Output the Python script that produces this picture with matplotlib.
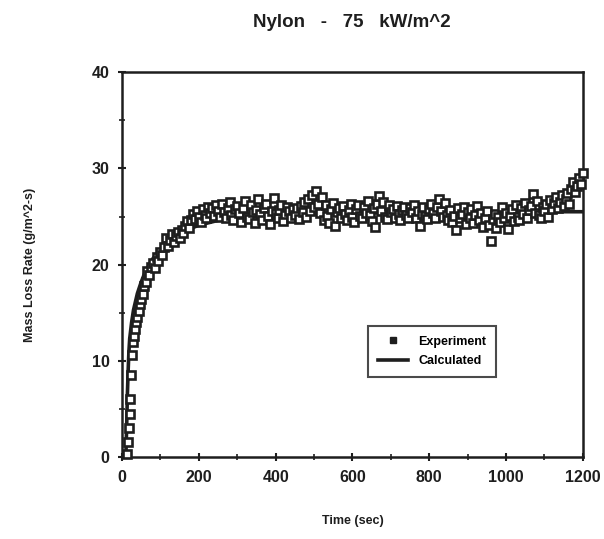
import numpy as np
import matplotlib
matplotlib.use("Agg")
import matplotlib.pyplot as plt
from matplotlib.lines import Line2D

# experiment, fast rise part (time in s, mass loss rate in g/m^2-s)
early_time = [14, 16, 18, 20, 22, 24, 26, 28, 31, 34, 37, 40, 43, 46, 50, 54,
              58, 62, 66, 70, 75, 80, 85, 90, 95, 100, 105, 110, 115, 120, 125,
              130, 135, 140, 145, 150, 155, 160, 165, 170, 175, 180, 185, 190,
              195, 200, 205, 210, 215, 220, 225, 230, 235, 240, 245, 250]
early_rate = [0.3, 1.6, 3.0, 4.5, 6.0, 8.5, 10.6, 12.0, 12.6, 13.3, 14.0, 14.6,
              15.2, 15.9, 16.4, 17.0, 17.8, 18.2, 19.3, 18.9, 19.8, 20.2, 19.6,
              20.8, 20.4, 21.3, 21.0, 21.8, 22.8, 21.9, 22.6, 23.2, 22.4, 23.0,
              23.4, 22.8, 23.6, 23.3, 24.0, 24.5, 23.8, 24.6, 25.3, 24.7, 25.6,
              25.0, 24.4, 25.8, 25.2, 24.9, 26.0, 25.4, 25.9, 25.1, 26.2, 25.6]

# experiment, plateau part: one reading every 5 s from 255 s to 1200 s
late_start, late_stop, late_step = 255, 1200, 5
late_rate = [
    25.0, 26.3, 25.5, 24.8, 25.9, 26.5, 25.2, 24.6, 25.8, 26.1,
    25.4, 24.4, 25.9, 26.6, 25.0, 24.7, 26.2, 25.5, 24.3, 25.7,
    26.8, 25.3, 24.6, 25.9, 26.3, 25.1, 24.2, 25.6, 26.9, 25.4,
    24.8, 25.7, 26.2, 24.5, 25.3, 26.0, 25.6, 24.9, 25.8, 25.2,
    25.9, 24.7, 26.1, 25.5, 26.5, 25.0, 26.8, 25.6, 27.2, 26.0,
    27.7, 26.3, 25.4, 27.0, 24.6, 26.2, 25.1, 24.3, 25.8, 26.4,
    24.0, 25.5, 25.9, 24.8, 26.1, 25.3, 24.6, 25.7, 26.3, 25.0,
    24.4, 25.8, 26.2, 25.1, 24.9, 26.0, 25.4, 26.6, 25.2, 24.5,
    25.9, 23.9, 26.3, 27.1, 25.6, 26.5, 25.0, 24.7, 26.2, 25.5,
    25.8, 24.9, 26.1, 25.3, 24.6, 25.7, 26.0, 25.2, 24.8, 25.9,
    25.5, 26.2, 24.9, 25.6, 24.0, 25.3, 26.0, 25.1, 24.7, 25.8,
    26.3, 25.4, 24.8, 26.0, 26.8, 25.6, 25.0, 26.4, 25.2, 24.6,
    25.7, 24.4, 25.1, 23.6, 25.9, 24.8, 25.3, 26.0, 24.2, 25.5,
    24.9, 25.8, 24.3, 25.2, 26.1, 24.6, 25.4, 23.9, 24.8, 25.6,
    24.1, 22.5, 24.7, 25.3, 23.8, 25.0, 24.4, 26.0, 24.9, 25.4,
    23.7, 25.1, 25.8, 24.5, 26.2, 25.0, 24.6, 25.9, 25.3, 26.4,
    24.8, 25.7, 26.1, 27.3, 25.4, 26.6, 25.2, 24.9, 26.0, 25.6,
    26.3, 25.0, 26.7, 25.8, 26.4, 27.0, 25.9, 26.5, 27.2, 26.1,
    26.8, 27.4, 26.3, 27.9, 28.6, 27.5, 28.2, 29.0, 28.4, 29.5,
]

# calculated curve
calc_time = [10, 12, 14, 16, 18, 20, 25, 30, 40, 50, 60, 80, 100, 125, 150,
             175, 200, 250, 300, 400, 500, 600, 800, 1000, 1200]
calc_rate = [0, 3, 6.5, 9, 11, 12.3, 14, 15.3, 17, 18.2, 19.2, 20.6, 21.6,
             22.5, 23.2, 23.7, 24.1, 24.6, 24.9, 25.2, 25.3, 25.4, 25.4, 25.5,
             25.5]

late_time = np.arange(late_start, late_stop + 1, late_step)
exp_time = np.concatenate([early_time, late_time])
exp_rate = np.concatenate([early_rate, late_rate])

plt.rcParams['font.family'] = ['Liberation Sans', 'DejaVu Sans']
plt.rcParams['font.weight'] = 'bold'
ink = '#1e1e1e'

fig = plt.figure(figsize=(6.04, 5.39), dpi=100)
ax = fig.add_axes([0.202, 0.152, 0.763, 0.714])

ax.plot(calc_time, calc_rate, color=ink, lw=2.6, zorder=2)
ax.plot(exp_time, exp_rate, ls='none', marker='s', ms=5.8, mfc='white',
        mec=ink, mew=1.9, zorder=3, clip_on=False)

ax.set_xlim(0, 1200)
ax.set_ylim(0, 40)
ax.set_xticks(np.arange(0, 1201, 200))
ax.set_xticks(np.arange(0, 1201, 100), minor=True)
ax.set_yticks(np.arange(0, 41, 10))
ax.set_yticks(np.arange(0, 41, 5), minor=True)
ax.tick_params(which='major', direction='inout', length=6, width=1.5,
               colors=ink, labelsize=11.5, pad=6)
ax.tick_params(which='minor', direction='inout', length=4, width=1.2, colors=ink)
for s in ax.spines.values():
    s.set_linewidth(1.8)
    s.set_color(ink)

fig.text(0.583, 0.958, 'Nylon   -   75   kW/m^2', ha='center', va='center',
         fontsize=13.5, fontweight='bold', color=ink)
ax.set_xlabel('Time (sec)', fontsize=9, fontweight='bold', color=ink, labelpad=22)
ax.set_ylabel('Mass Loss Rate (g/m^2-s)', fontsize=9, fontweight='bold',
              color=ink, labelpad=40)

handles = [Line2D([], [], ls='none', marker='s', ms=5, color=ink),
           Line2D([], [], color=ink, lw=2.6)]
leg = ax.legend(handles, ['Experiment', 'Calculated'], loc='upper left',
                bbox_to_anchor=(0.521, 0.358), fontsize=9, frameon=True,
                fancybox=False, edgecolor=ink, handlelength=2.4,
                borderpad=0.8, labelspacing=0.6)
leg.get_frame().set_linewidth(1.5)

fig.savefig('out.png', dpi=100)
